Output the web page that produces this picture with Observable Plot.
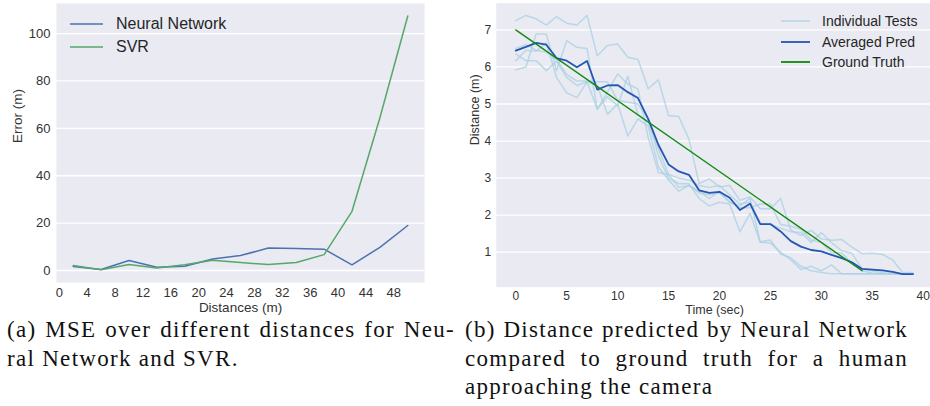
<!DOCTYPE html>
<html><head><meta charset="utf-8">
<script src="https://cdn.jsdelivr.net/npm/d3@7"></script>
<script src="https://cdn.jsdelivr.net/npm/@observablehq/plot@0.6"></script>
<style>
body{margin:0;background:#fff;}
#wrap{position:relative;width:930px;height:406px;overflow:hidden;background:#fff;font-family:"Liberation Sans",Arial,sans-serif;}
.panel{position:absolute;top:0;}
.cap{position:absolute;font-family:"Liberation Serif","DejaVu Serif","Noto Serif","Times New Roman",Tinos,serif;font-size:23px;color:#111;letter-spacing:1.3px;}
.cap .ln{height:28.5px;line-height:28.5px;white-space:nowrap;}
.cap .j{display:flex;justify-content:space-between;}
.leg{position:absolute;color:#262626;white-space:nowrap;}
.leg .row{position:absolute;left:0;display:flex;align-items:center;}
</style></head>
<body><div id="wrap"></div>
<script>
// ---------- data: panel (a) ----------
const distances = [2, 6, 10, 14, 18, 22, 26, 30, 34, 38, 42, 46, 50];
const nnError   = [1.7, 0.4, 4.2, 1.4, 1.8, 4.9, 6.3, 9.5, 9.3, 9.0, 2.4, 9.8, 19.0];
const svrError  = [2.1, 0.3, 2.5, 1.1, 2.4, 4.3, 3.4, 2.5, 3.4, 6.7, 25.0, 64.5, 107.4];
const xTicksA = [0, 4, 8, 12, 16, 20, 24, 28, 32, 36, 40, 44, 48];
const yTicksA = [0, 20, 40, 60, 80, 100];

// ---------- data: panel (b) ----------
const seconds = [0,1,2,3,4,5,6,7,8,9,10,11,12,13,14,15,16,17,18,19,20,21,22,23,24,25,26,27,28,29,30,31,32,33,34,35,36,37,38,39];
const testA = [7.25,7.39,7.30,7.13,7.36,7.18,7.13,7.39,6.30,6.58,6.62,6.26,6.20,5.41,5.65,4.69,4.66,4.05,2.85,2.98,2.76,2.80,2.40,2.49,2.17,2.17,2.45,1.60,1.45,1.59,1.36,1.32,1.34,1.14,0.96,0.97,0.94,0.79,0.45,0.45];
const testB = [6.50,6.60,6.45,6.40,6.20,5.80,5.62,5.62,5.60,5.60,5.10,5.05,5.00,4.60,3.60,3.00,2.85,2.85,2.45,2.25,2.35,2.30,1.55,2.05,1.27,1.25,1.00,0.80,0.53,0.62,0.50,0.66,0.42,0.42,0.42,0.42,0.42,0.42,0.42,0.42];
const testC = [6.35,6.17,6.17,5.90,6.15,5.72,5.50,5.60,4.86,5.20,4.95,5.75,4.70,4.50,3.80,3.10,3.00,2.95,2.80,2.75,2.80,2.55,2.30,2.35,1.78,1.75,1.65,1.55,1.53,1.26,1.53,1.26,1.04,0.97,0.55,0.50,0.45,0.42,0.42,0.42];
const testD = [6.17,6.45,6.42,6.65,5.72,5.30,5.17,5.60,5.50,4.72,5.00,4.14,4.60,4.40,3.30,2.95,2.65,2.80,2.60,2.55,2.60,2.35,2.25,2.45,1.28,1.33,0.95,0.85,0.62,0.50,0.45,0.42,0.42,0.42,0.42,0.42,0.42,0.42,0.42,0.42];
const testE = [5.92,6.00,6.89,6.89,5.90,6.71,6.53,6.50,4.86,5.32,5.81,5.54,5.40,4.10,3.15,3.10,2.75,2.80,2.65,2.45,2.65,2.35,2.20,2.20,2.30,2.30,1.75,1.70,1.62,1.33,1.26,0.99,0.98,0.70,0.50,0.44,0.42,0.42,0.42,0.42];
const avgPred = [6.44,6.54,6.65,6.60,6.24,6.17,5.99,6.16,5.39,5.50,5.51,5.32,5.16,4.60,3.90,3.37,3.18,3.09,2.67,2.60,2.63,2.47,2.14,2.31,1.76,1.76,1.56,1.30,1.15,1.06,1.02,0.93,0.84,0.73,0.55,0.53,0.51,0.47,0.41,0.41];
const gtTime = [0, 34];
const gtDist = [7.0, 0.5];
const xTicksB = [0, 5, 10, 15, 20, 25, 30, 35, 40];
const yTicksB = [1, 2, 3, 4, 5, 6, 7];

const wrap = document.getElementById("wrap");
const BG = "#eaeaf2", TXT = "#333";

// ---------- panel (a) ----------
const aRows = distances.map((d, i) => ({d, nn: nnError[i], svr: svrError[i]}));
const plotA = Plot.plot({
  width: 460, height: 330,
  marginLeft: 56, marginRight: 36, marginTop: 3, marginBottom: 48,
  x: {domain: [-0.4, 52.4]},
  y: {domain: [-5.06, 112.7]},
  style: {fontFamily: '"Liberation Sans", Arial, sans-serif', fontSize: "13px", color: TXT, background: "transparent", overflow: "visible"},
  marks: [
    Plot.frame({fill: BG, stroke: "none"}),
    Plot.gridY(yTicksA, {stroke: "#fff", strokeOpacity: 1, strokeWidth: 1.3}),
    Plot.axisX(xTicksA, {tickSize: 0, tickPadding: 5, label: null, fontSize: 13}),
    Plot.axisY(yTicksA, {tickSize: 0, tickPadding: 6, label: null, fontSize: 13}),
    Plot.line(aRows, {x: "d", y: "nn", stroke: "#4c72b0", strokeWidth: 1.5}),
    Plot.line(aRows, {x: "d", y: "svr", stroke: "#55a868", strokeWidth: 1.5}),
    Plot.text(["Error (m)"], {text: d => d, frameAnchor: "left", dx: -39, rotate: -90, fontSize: 13.5, fill: TXT}),
    Plot.text(["Distances (m)"], {text: d => d, frameAnchor: "bottom", dy: 29.5, fontSize: 13.5, fill: TXT})
  ]
});
plotA.classList.add("panel");
plotA.style.left = "0px";
wrap.appendChild(plotA);

// ---------- panel (b) ----------
const tests = [testA, testB, testC, testD, testE];
const testRows = tests.flatMap((vals, k) => vals.map((v, i) => ({t: seconds[i], v, k})));
const avgRows = seconds.map((t, i) => ({t, v: avgPred[i]}));
const gtRows = gtTime.map((t, i) => ({t, v: gtDist[i]}));
const plotB = Plot.plot({
  width: 475, height: 330,
  marginLeft: 35.7, marginRight: 2.6, marginTop: 2.7, marginBottom: 43.3,
  x: {domain: [-1.92, 40.95]},
  y: {domain: [0.056, 7.72]},
  style: {fontFamily: '"Liberation Sans", Arial, sans-serif', fontSize: "12px", color: TXT, background: "transparent", overflow: "visible"},
  marks: [
    Plot.frame({fill: BG, stroke: "none"}),
    Plot.gridY(yTicksB, {stroke: "#fff", strokeOpacity: 1, strokeWidth: 1.3}),
    Plot.axisX(xTicksB, {tickSize: 0, tickPadding: 4, label: null, fontSize: 12}),
    Plot.axisY(yTicksB, {tickSize: 0, tickPadding: 5, label: null, fontSize: 12}),
    Plot.line(testRows, {x: "t", y: "v", z: "k", stroke: "#a8d0e2", strokeOpacity: 0.75, strokeWidth: 1.5}),
    Plot.line(avgRows, {x: "t", y: "v", stroke: "#2456b4", strokeWidth: 1.8}),
    Plot.line(gtRows, {x: "t", y: "v", stroke: "#108a10", strokeWidth: 1.4}),
    Plot.text(["Distance (m)"], {text: d => d, frameAnchor: "left", dx: -21.7, rotate: -90, fontSize: 12.5, fill: TXT}),
    Plot.text(["Time (sec)"], {text: d => d, frameAnchor: "bottom", dy: 27, fontSize: 12.5, fill: TXT})
  ]
});
plotB.classList.add("panel");
plotB.style.left = "460px";
wrap.appendChild(plotB);

// ---------- legends ----------
function legend(left, top, rows, swW, gap, fs, rowH) {
  const div = document.createElement("div");
  div.className = "leg";
  div.style.left = left + "px"; div.style.top = top + "px";
  div.style.fontSize = fs + "px";
  rows.forEach((r, i) => {
    const row = document.createElement("div");
    row.className = "row";
    row.style.top = (i * rowH) + "px";
    row.style.height = "0px";
    row.innerHTML = `<svg width="${swW}" height="6" style="margin-right:${gap}px;overflow:visible"><line x1="0" x2="${swW}" y1="3" y2="3" stroke="${r.c}" stroke-width="${r.w}" stroke-opacity="${r.o||1}"/></svg><span>${r.label}</span>`;
    div.appendChild(row);
  });
  wrap.appendChild(div);
}
legend(70, 24, [
  {label: "Neural Network", c: "#4c72b0", w: 1.5},
  {label: "SVR", c: "#55a868", w: 1.5}
], 33, 13, 16, 23);
legend(781, 21, [
  {label: "Individual Tests", c: "#a8d0e2", w: 1.6, o: 0.75},
  {label: "Averaged Pred", c: "#2456b4", w: 1.8},
  {label: "Ground Truth", c: "#108a10", w: 1.8}
], 29, 12, 14, 20.7);

// ---------- captions ----------
function caption(left, width, lines) {
  const div = document.createElement("div");
  div.className = "cap";
  div.style.left = left + "px"; div.style.top = "316px"; div.style.width = width + "px";
  lines.forEach(l => {
    const ln = document.createElement("div");
    ln.className = "ln" + (l.j ? " j" : "");
    if (l.j) l.t.split(" ").forEach(w => { const s = document.createElement("span"); s.textContent = w; ln.appendChild(s); });
    else ln.textContent = l.t;
    div.appendChild(ln);
  });
  wrap.appendChild(div);
}
caption(7, 448, [
  {t: "(a) MSE over different distances for Neu-", j: true},
  {t: "ral Network and SVR."}
]);
caption(465, 443, [
  {t: "(b) Distance predicted by Neural Network", j: true},
  {t: "compared to ground truth for a human", j: true},
  {t: "approaching the camera"}
]);
</script></body></html>
